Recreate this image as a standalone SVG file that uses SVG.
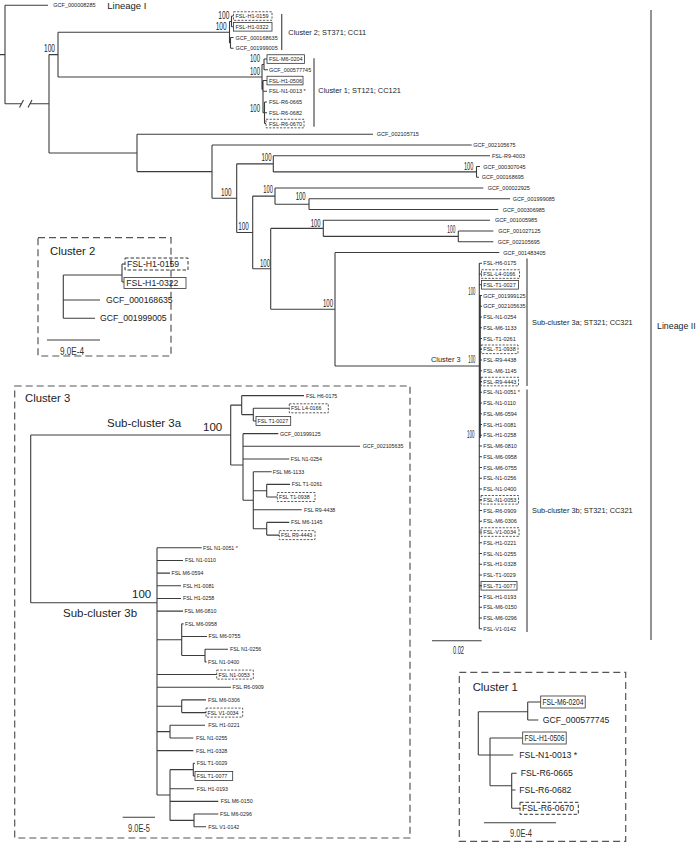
<svg xmlns="http://www.w3.org/2000/svg" width="697" height="843" viewBox="0 0 697 843">
<style>
.ln{fill:none;stroke:#3c3c3c;stroke-width:1.1}
.br{fill:none;stroke:#5a5a5a;stroke-width:1.3}
.bx{fill:none;stroke:#333;stroke-width:0.8}
.db{fill:none;stroke:#333;stroke-width:0.8;stroke-dasharray:2.2,1.4}
.db2{fill:none;stroke:#333;stroke-width:1;stroke-dasharray:3.5,2}
.frame{fill:none;stroke:#555;stroke-width:1.2;stroke-dasharray:7,4}
text{font-family:'Liberation Sans',Arial,sans-serif;fill:#222}
.t{font-size:5.5px}
.s{font-size:5.3px}
.m{font-size:8.7px}
.a{font-size:7.4px}
.lg{font-size:9.5px}
.lg2{font-size:8.8px}
.h{font-size:11.3px}
.bs{font-size:10px;fill:#333}
.big{font-size:11.5px}
</style>

<g id="connectors">
<path class="ln" d="M0,54.6H5 M5,5.3V103.8 M5,5.3H48 M5,103.8H21.5 M30.5,103.8H49 M19.5,107.5L23.5,100 M28,107.5L32,100
M49,54.6V153 M49,54.6H58 M49,153H137
M58,32.2V77 M58,32.2H229.5 M58,77H262
M229.5,21.45V42.95 M229.5,21.45H231.5 M231.5,16.05V26.8 M231.5,16.05H233.5 M231.5,26.8H233.5 M229.5,42.95H230.5 M230.5,37.55V48.3 M230.5,37.55H233.5 M230.5,48.3H233.5
M262,64.45V89.6 M262,64.45H264 M264,59.05V69.8 M264,59.05H267 M264,69.8H268 M262,89.6H263 M263,80.55V112.8 M263,80.55H267 M263,91.3H267 M263,112.8H264.5 M264.5,102.05V123.55 M264.5,102.05H267 M264.5,112.8H267 M264.5,123.55H266
M137,134.3V171.6 M137,134.3H373 M137,171.6H212
M212,145.05V198.2 M212,145.05H471.7 M212,198.2H236.7
M236.7,163.85V232.5 M236.7,163.85H273.3 M236.7,232.5H252.7
M273.3,155.8V171.9 M273.3,155.8H490 M273.3,171.9H476.5
M476.5,166.55V177.3 M476.5,166.55H480 M476.5,177.3H479
M252.7,196.1V268.8 M252.7,196.1H275 M252.7,268.8H270.7
M275,188.05V204.2 M275,188.05H483.3 M275,204.2H309
M309,198.8V209.55 M309,198.8H510 M309,209.55H498.3
M270.7,228.4V309.3 M270.7,228.4H323.3 M270.7,309.3H335
M323.3,220.3V236.4 M323.3,220.3H490 M323.3,236.4H458.3
M458.3,231.05V241.8 M458.3,231.05H493.3 M458.3,241.8H493.3
M335,252.55V366 M335,252.55H499.3 M335,366H479.3
M479.3,263.3V628.8 M480.3,296V438
M479.3,263.3H482 M479.3,274.05H482 M479.3,284.8H482 M479.3,295.55H482 M479.3,306.3H482 M479.3,317.05H482 M479.3,327.8H482 M479.3,338.55H482 M479.3,349.3H482 M479.3,360.05H482 M479.3,370.8H482 M479.3,381.55H482 M479.3,392.3H482 M479.3,403.05H482 M479.3,413.8H482 M479.3,424.55H482 M479.3,435.3H482 M479.3,446.05H482 M479.3,456.8H482 M479.3,467.55H482 M479.3,478.3H482 M479.3,489.05H482 M479.3,499.8H482 M479.3,510.55H482 M479.3,521.3H482 M479.3,532.05H482 M479.3,542.8H482 M479.3,553.55H482 M479.3,564.3H482 M479.3,575.05H482 M479.3,585.8H482 M479.3,596.55H482 M479.3,607.3H482 M479.3,618.05H482 M479.3,628.8H482
M432,640.7H481.7"/>
<path class="br" d="M281.7,14V50 M314,58.3V126.7 M527,258.5V386 M527,389.5V632 M651,10V640"/>
</g>

<g id="boxes-main">
<rect class="db" x="233.5" y="11.75" width="38.5" height="8.6"/>
<rect class="bx" x="233.5" y="22.5" width="38.5" height="8.6"/>
<rect class="bx" x="267" y="54.75" width="37.5" height="8.6"/>
<rect class="bx" x="267" y="76.25" width="36" height="8.6"/>
<rect class="db" x="266" y="119.25" width="38" height="8.6"/>
<rect class="db" x="481.5" y="269.75" width="38" height="8.6"/>
<rect class="bx" x="481.5" y="280.5" width="37" height="8.6"/>
<rect class="db" x="481" y="345" width="37" height="8.6"/>
<rect class="db" x="481" y="377.25" width="37.5" height="8.6"/>
<rect class="db" x="481" y="495.5" width="37.5" height="8.6"/>
<rect class="db" x="481" y="527.75" width="38" height="8.6"/>
<rect class="bx" x="481" y="581.5" width="36" height="8.6"/>
</g>

<g id="tips-main" class="t">
<text x="53.3" y="7.3">GCF_000008285</text>
<text x="235.5" y="18.05">FSL-H1-0159</text>
<text x="235.5" y="28.8">FSL-H1-0322</text>
<text x="235.5" y="39.55">GCF_000168635</text>
<text x="235.5" y="50.3">GCF_001999005</text>
<text x="269" y="61.05">FSL-M6-0204</text>
<text x="269" y="71.8">GCF_000577745</text>
<text x="269" y="82.55">FSL-H1-0506</text>
<text x="269" y="93.3">FSL-N1-0013 *</text>
<text x="269" y="104.05">FSL-R6-0665</text>
<text x="269" y="114.8">FSL-R6-0682</text>
<text x="269" y="125.55">FSL-R6-0670</text>
<text x="376.7" y="136.3">GCF_002105715</text>
<text x="473.3" y="147.05">GCF_002105675</text>
<text x="492" y="157.8">FSL-R9-4003</text>
<text x="483.3" y="168.55">GCF_000307045</text>
<text x="481.7" y="179.3">GCF_000168695</text>
<text x="487.7" y="190.05">GCF_000022925</text>
<text x="512.7" y="200.8">GCF_001999085</text>
<text x="502.7" y="211.55">GCF_000306985</text>
<text x="495" y="222.3">GCF_001005985</text>
<text x="498.3" y="233.05">GCF_001027125</text>
<text x="497.7" y="243.8">GCF_002105695</text>
<text x="503.3" y="254.55">GCF_001483405</text>
<text x="483.3" y="265.3">FSL-H6-0175</text>
<text x="483.3" y="276.05">FSL-L4-0166</text>
<text x="483.3" y="286.8">FSL-T1-0027</text>
<text x="483.3" y="297.55">GCF_001999125</text>
<text x="483.3" y="308.3">GCF_002105635</text>
<text x="483.3" y="319.05">FSL-N1-0254</text>
<text x="483.3" y="329.8">FSL-M6-1133</text>
<text x="483.3" y="340.55">FSL-T1-0261</text>
<text x="483.3" y="351.3">FSL-T1-0938</text>
<text x="483.3" y="362.05">FSL-R9-4438</text>
<text x="483.3" y="372.8">FSL-M6-1145</text>
<text x="483.3" y="383.55">FSL-R9-4443</text>
<text x="483.3" y="394.3">FSL-N1-0051 *</text>
<text x="483.3" y="405.05">FSL-N1-0110</text>
<text x="483.3" y="415.8">FSL-M6-0594</text>
<text x="483.3" y="426.55">FSL-H1-0081</text>
<text x="483.3" y="437.3">FSL-H1-0258</text>
<text x="483.3" y="448.05">FSL-M6-0810</text>
<text x="483.3" y="458.8">FSL-M6-0958</text>
<text x="483.3" y="469.55">FSL-M6-0755</text>
<text x="483.3" y="480.3">FSL-N1-0256</text>
<text x="483.3" y="491.05">FSL-N1-0400</text>
<text x="483.3" y="501.8">FSL-N1-0053</text>
<text x="483.3" y="512.55">FSL-R6-0909</text>
<text x="483.3" y="523.3">FSL-M6-0306</text>
<text x="483.3" y="534.05">FSL-V1-0034</text>
<text x="483.3" y="544.8">FSL-H1-0221</text>
<text x="483.3" y="555.55">FSL-N1-0255</text>
<text x="483.3" y="566.3">FSL-H1-0328</text>
<text x="483.3" y="577.05">FSL-T1-0029</text>
<text x="483.3" y="587.8">FSL-T1-0077</text>
<text x="483.3" y="598.55">FSL-H1-0193</text>
<text x="483.3" y="609.3">FSL-M6-0150</text>
<text x="483.3" y="620.05">FSL-M6-0296</text>
<text x="483.3" y="630.8">FSL-V1-0142</text>
</g>

<g id="bootstrap-main" class="bs">
<text x="44" y="52.3" textLength="11" lengthAdjust="spacingAndGlyphs">100</text>
<text x="218.3" y="19.3" textLength="11" lengthAdjust="spacingAndGlyphs">100</text>
<text x="215.7" y="30" textLength="11" lengthAdjust="spacingAndGlyphs">100</text>
<text x="250" y="61.7" textLength="10" lengthAdjust="spacingAndGlyphs">100</text>
<text x="250" y="75" textLength="10" lengthAdjust="spacingAndGlyphs">100</text>
<text x="250" y="111.7" textLength="10" lengthAdjust="spacingAndGlyphs">100</text>
<text x="221" y="196" textLength="10.5" lengthAdjust="spacingAndGlyphs">100</text>
<text x="261.5" y="160.7" textLength="10" lengthAdjust="spacingAndGlyphs">100</text>
<text x="263.3" y="193.3" textLength="9.5" lengthAdjust="spacingAndGlyphs">100</text>
<text x="295.7" y="200" textLength="10" lengthAdjust="spacingAndGlyphs">100</text>
<text x="238.3" y="230" textLength="10.5" lengthAdjust="spacingAndGlyphs">100</text>
<text x="310.7" y="226.7" textLength="10" lengthAdjust="spacingAndGlyphs">100</text>
<text x="260" y="267.3" textLength="10" lengthAdjust="spacingAndGlyphs">100</text>
<text x="464" y="170" textLength="9.3" lengthAdjust="spacingAndGlyphs">100</text>
<text x="447.3" y="233.3" textLength="8" lengthAdjust="spacingAndGlyphs">100</text>
<text x="323" y="307" textLength="10" lengthAdjust="spacingAndGlyphs">100</text>
<text x="468.3" y="363.3" textLength="7" lengthAdjust="spacingAndGlyphs">100</text>
<text x="468.3" y="295" textLength="7" lengthAdjust="spacingAndGlyphs">100</text>
<text x="467" y="438.3" textLength="7.5" lengthAdjust="spacingAndGlyphs">100</text>
<text x="453" y="653.7" textLength="11" lengthAdjust="spacingAndGlyphs">0.02</text>
</g>

<g id="annotations">
<text class="lg" x="107.3" y="8.5">Lineage I</text>
<text class="lg2" x="657" y="329">Lineage II</text>
<text class="a" x="288.3" y="34.9">Cluster 2; ST371; CC11</text>
<text class="a" x="318.3" y="92.6">Cluster 1; ST121; CC121</text>
<text class="a" x="431" y="362">Cluster 3</text>
<text class="a" x="532" y="325.3">Sub-cluster 3a; ST321; CC321</text>
<text class="a" x="532" y="512.6">Sub-cluster 3b; ST321; CC321</text>
</g>

<g id="inset-cluster2">
<rect class="frame" x="38" y="237.7" width="133" height="118.3"/>
<text class="h" x="50" y="254.7">Cluster 2</text>
<path class="ln" d="M63.3,275V318.3 M63.3,275H122 M122,264V282 M122,264H125 M122,282H124 M63.3,300H100 M63.3,318.3H95 M47,340H100"/>
<rect class="db2" x="125" y="258" width="63" height="12"/>
<rect class="bx" x="124" y="277.5" width="62" height="11"/>
<text class="m" x="127" y="267.1">FSL-H1-0159</text>
<text class="m" x="126.3" y="286.1">FSL-H1-0322</text>
<text class="m" x="106" y="303.1">GCF_000168635</text>
<text class="m" x="100" y="321.4">GCF_001999005</text>
<text class="bs" x="60" y="355" textLength="24" lengthAdjust="spacingAndGlyphs">9.0E-4</text>
</g>

<g id="inset-cluster1">
<rect class="frame" x="459.3" y="672.3" width="166.4" height="169"/>
<text class="h" x="472.7" y="690.7">Cluster 1</text>
<path class="ln" d="M478.3,711.7V755 M478.3,711.7H527.7 M527.7,702V720 M527.7,702H540.7 M527.7,720H538.3 M478.3,755H490 M490,738V785.7 M490,738H522.7 M490,755H513.3 M490,785.7H511.7 M511.7,773.3V808.3 M511.7,773.3H516.7 M511.7,790H515.5 M511.7,808.3H520 M484,822.7H556"/>
<rect class="bx" x="540.7" y="696" width="44.5" height="12"/>
<rect class="bx" x="522.7" y="732" width="43.5" height="12"/>
<rect class="db2" x="520" y="802.3" width="58.3" height="12"/>
<text class="m" x="542.5" y="705.1" textLength="41" lengthAdjust="spacingAndGlyphs">FSL-M6-0204</text>
<text class="m" x="542.7" y="723.1">GCF_000577745</text>
<text class="m" x="524.5" y="741.1" textLength="40" lengthAdjust="spacingAndGlyphs">FSL-H1-0506</text>
<text class="m" x="519.3" y="758.1">FSL-N1-0013 *</text>
<text class="m" x="520.7" y="776.4">FSL-R6-0665</text>
<text class="m" x="519.3" y="793.1">FSL-R6-0682</text>
<text class="m" x="522" y="811.4">FSL-R6-0670</text>
<text class="bs" x="510" y="837" textLength="22" lengthAdjust="spacingAndGlyphs">9.0E-4</text>
</g>

<g id="inset-cluster3">
<rect class="frame" x="14.7" y="386" width="395.3" height="452"/>
<text class="h" x="25" y="402">Cluster 3</text>
<text class="big" x="107" y="427.2">Sub-cluster 3a</text>
<text class="big" x="203" y="431">100</text>
<text class="big" x="63" y="616.9">Sub-cluster 3b</text>
<text class="big" x="132" y="598">100</text>
<path class="ln" d="M30.7,435V602.7 M30.7,435H230.7 M30.7,602.7H157
M230.7,405.1V465 M230.7,405.1H241.7 M230.7,465H243
M241.7,395.6V414.62 M241.7,395.6H304 M241.7,414.62H253.3
M253.3,408.28V420.96 M253.3,408.28H289.3 M253.3,420.96H256
M243,433.64V500.2 M243,433.64H278.3 M243,446.32H360 M243,459H289.3 M243,500.2H253.3
M253.3,471.68V528.74 M253.3,471.68H271.7 M253.3,490.7H266.7 M253.3,509.72H301.7 M253.3,528.74H266.7
M266.7,484.36V497.04 M266.7,484.36H290 M266.7,497.04H277.3
M266.7,522.4V535.08 M266.7,522.4H289.3 M266.7,535.08H279.3
M157,547.76V795 M157,547.76H201.7 M157,560.44H183 M157,573.12H170 M157,585.8H181 M157,598.48H181 M157,611.16H183 M157,639.7H181.7 M157,674.56H216.7 M157,687.24H231 M157,706.26H181.7 M157,731.62H170 M157,750.64H193.3 M157,795H170
M181.7,623.84V655.54 M181.7,623.84H183.5 M181.7,636.52H207 M181.7,655.54H205
M205,649.2V661.88 M205,649.2H228 M205,661.88H206.5
M181.7,699.92V712.6 M181.7,699.92H206 M181.7,712.6H206
M170,725.28V737.96 M170,725.28H205 M170,737.96H193.3
M170,769.66V820.38 M170,769.66H193.3 M170,788.68H194 M170,801.36H218.3 M170,820.38H194
M193.3,763.32V776 M193.3,763.32H195 M193.3,776H195
M194,814.04V826.72 M194,814.04H218.3 M194,826.72H206
M122.7,817.3H155"/>
<rect class="db" x="289.3" y="403.8" width="39" height="9"/>
<rect class="bx" x="256" y="416.5" width="34.7" height="9"/>
<rect class="db" x="277.3" y="492.5" width="37.7" height="9"/>
<rect class="db" x="279.3" y="530.6" width="35.7" height="9"/>
<rect class="db" x="216.7" y="670.1" width="36.6" height="9"/>
<rect class="db" x="206" y="708.1" width="36.7" height="9"/>
<rect class="bx" x="195" y="771.5" width="37.7" height="9"/>
<g class="s">
<text x="306" y="397.5">FSL H6-0175</text>
<text x="291" y="410.2">FSL L4-0166</text>
<text x="257.5" y="422.9">FSL T1-0027</text>
<text x="280" y="435.5">GCF_001999125</text>
<text x="362.7" y="448.2">GCF_002105635</text>
<text x="290.7" y="460.9">FSL N1-0254</text>
<text x="272.7" y="473.6">FSL M6-1133</text>
<text x="291.7" y="486.3">FSL T1-0261</text>
<text x="279" y="498.9">FSL T1-0938</text>
<text x="304" y="511.6">FSL R9-4438</text>
<text x="291" y="524.3">FSL M6-1145</text>
<text x="281" y="537">FSL R9-4443</text>
<text x="203" y="549.7">FSL N1-0051 *</text>
<text x="185" y="562.3">FSL N1-0110</text>
<text x="171.5" y="575">FSL M6-0594</text>
<text x="183" y="587.7">FSL H1-0081</text>
<text x="183" y="600.4">FSL H1-0258</text>
<text x="184.5" y="613.1">FSL M6-0810</text>
<text x="185" y="625.7">FSL M6-0958</text>
<text x="208.5" y="638.4">FSL M6-0755</text>
<text x="230" y="651.1">FSL N1-0256</text>
<text x="208" y="663.8">FSL N1-0400</text>
<text x="218.5" y="676.5">FSL N1-0053</text>
<text x="232.5" y="689.1">FSL R6-0909</text>
<text x="208" y="701.8">FSL M6-0306</text>
<text x="207.5" y="714.5">FSL V1-0034</text>
<text x="208.3" y="727.2">FSL H1-0221</text>
<text x="196" y="739.9">FSL N1-0255</text>
<text x="196" y="752.5">FSL H1-0328</text>
<text x="196.7" y="765.2">FSL T1-0029</text>
<text x="196.7" y="777.9">FSL T1-0077</text>
<text x="196.7" y="790.6">FSL H1-0193</text>
<text x="220.7" y="803.3">FSL M6-0150</text>
<text x="220" y="815.9">FSL M6-0296</text>
<text x="208.3" y="828.6">FSL V1-0142</text>
</g>
<text class="bs" x="128" y="832" textLength="22" lengthAdjust="spacingAndGlyphs">9.0E-5</text>
</g>
</svg>
